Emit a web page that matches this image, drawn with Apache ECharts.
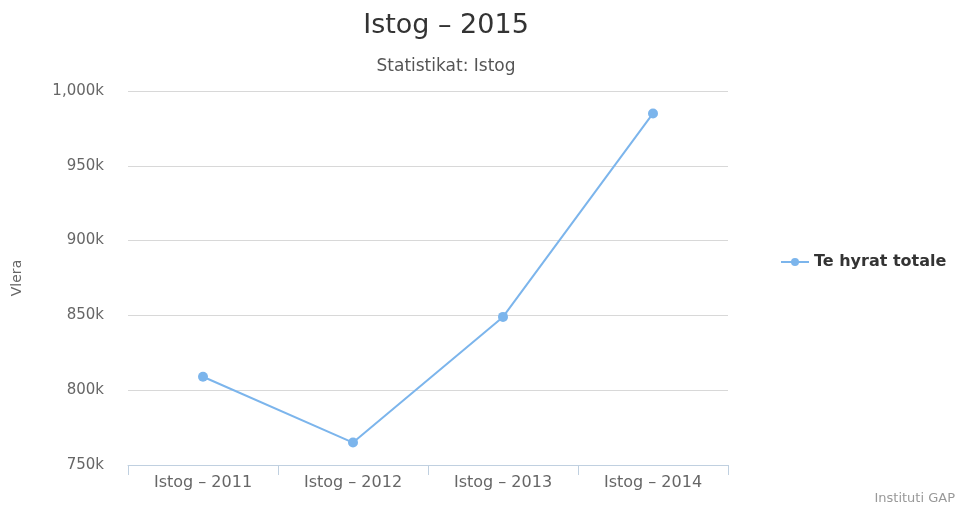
<!DOCTYPE html>
<html>
<head>
<meta charset="utf-8">
<script src="https://cdn.jsdelivr.net/npm/echarts@6/dist/echarts.min.js"></script>
<style>
  html, body { margin: 0; padding: 0; background: #fff; }
  #main { width: 963px; height: 510px; }
</style>
</head>
<body>
<div id="main"></div>
<script>
// te dhenat
var categories = ['Istog – 2011', 'Istog – 2012', 'Istog – 2013', 'Istog – 2014'];
var seriesName = 'Te hyrat totale';
var values = [809000, 765000, 849000, 985000];

var chart = echarts.init(document.getElementById('main'));

var font = 'DejaVu Sans';

var option = {
    backgroundColor: '#fff',
    title: [
        {
            text: 'Istog – 2015',
            left: 441,
            textAlign: 'center',
            top: 7,
            textStyle: { fontFamily: font, fontSize: 27, fontWeight: 'normal', color: '#333' }
        },
        {
            text: 'Statistikat: Istog',
            left: 441,
            textAlign: 'center',
            top: 53,
            textStyle: { fontFamily: font, fontSize: 17, fontWeight: 'normal', color: '#555' }
        },
        {
            text: 'Instituti GAP',
            right: 3,
            bottom: 0,
            textStyle: { fontFamily: font, fontSize: 13, fontWeight: 'normal', color: '#999' }
        }
    ],
    legend: {
        orient: 'vertical',
        left: 775,
        top: 249,
        itemWidth: 28,
        itemHeight: 10,
        textStyle: { fontFamily: font, fontSize: 16, fontWeight: 'bold', color: '#333' },
        data: [seriesName]
    },
    grid: { left: 128, right: 235, top: 91, bottom: 45 },
    xAxis: {
        type: 'category',
        data: categories,
        boundaryGap: true,
        axisLine: { lineStyle: { color: '#C0D0E0' } },
        axisTick: { show: true, length: 10, lineStyle: { color: '#C0D0E0' } },
        axisLabel: { fontFamily: font, fontSize: 16, color: '#666', margin: 10 }
    },
    yAxis: {
        type: 'value',
        min: 750000,
        max: 1000000,
        interval: 50000,
        name: 'Vlera',
        nameLocation: 'middle',
        nameGap: 104,
        nameTextStyle: { fontFamily: font, fontSize: 14, color: '#666' },
        axisLine: { show: false },
        axisTick: { show: false },
        axisLabel: {
            fontFamily: font, fontSize: 15, color: '#666', margin: 24,
            formatter: function (v) {
                return (v / 1000).toLocaleString('en-US') + 'k';
            }
        },
        splitLine: { lineStyle: { color: '#D8D8D8' } }
    },
    series: [
        {
            name: seriesName,
            type: 'line',
            data: values,
            symbol: 'circle',
            symbolSize: 10,
            color: '#7cb5ec',
            lineStyle: { width: 2, color: '#7cb5ec' },
            itemStyle: { color: '#7cb5ec' }
        }
    ]
};

chart.setOption(option);
</script>
</body>
</html>
